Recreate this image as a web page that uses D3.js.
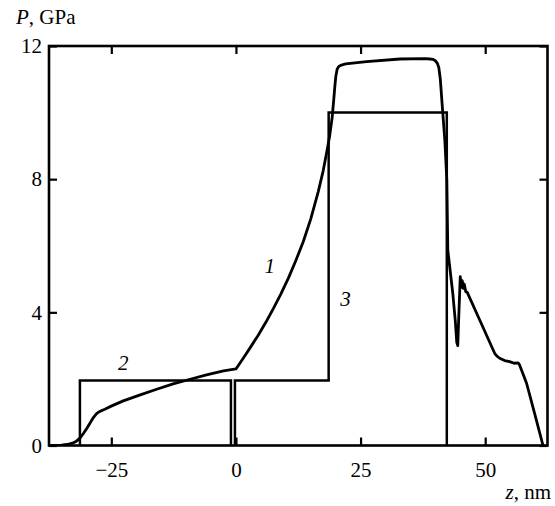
<!DOCTYPE html>
<html>
<head>
<meta charset="utf-8">
<script src="https://cdn.jsdelivr.net/npm/d3@7"></script>
<style>
  html, body { margin: 0; padding: 0; background: #fff; }
  svg { display: block; }
  svg text { font-family: "Liberation Serif", "DejaVu Serif", "Times New Roman", serif; fill: #000; }
</style>
</head>
<body>
<div id="chart"></div>
<script>
// ---- data ----
const xTicks = [-25, 0, 25, 50];
const yTicks = [0, 4, 8, 12];
const xTickLabels = ["\u221225", "0", "25", "50"];
const yTickLabels = ["0", "4", "8", "12"];

// curve 1: pressure profile P(z)
const curve1Z = [-37.3, -35.0, -33.9, -32.8, -32.0, -31.3, -30.6, -29.9, -29.2, -28.6, -28.0, -27.6, -26.9, -26.3, -24.9, -22.6, -19.2, -15.9, -12.6, -9.2, -5.9, -2.5, 0,
  1.5, 3.0, 4.5, 6.0, 7.5, 9.0, 10.5, 12.0, 13.5, 15.0, 16.5, 17.5, 18.2, 18.8, 19.3, 19.6, 19.85, 20.05, 20.3, 20.6, 21.0, 22.0, 26.2, 32.9, 38.0, 38.9, 39.5, 40.0, 40.4, 40.7, 41.0, 41.4, 41.9, 42.3,
  42.5, 43.5, 44.0, 44.3, 44.5, 44.7, 45.0, 45.2, 45.4, 45.6, 45.8, 46.1, 46.4, 48.9, 51.9, 52.4, 52.9, 53.9, 54.9, 55.8, 56.6, 56.9, 58.3, 59.9, 61.6];
const curve1P = [0, 0.01, 0.03, 0.07, 0.13, 0.22, 0.36, 0.52, 0.69, 0.84, 0.95, 1.0, 1.05, 1.09, 1.19, 1.34, 1.52, 1.69, 1.85, 1.99, 2.12, 2.24, 2.30,
  2.63, 2.97, 3.32, 3.70, 4.11, 4.55, 5.02, 5.55, 6.12, 6.80, 7.62, 8.25, 8.8, 9.3, 9.85, 10.35, 10.8, 11.1, 11.3, 11.38, 11.42, 11.46, 11.53, 11.61, 11.62, 11.61, 11.6, 11.56, 11.48, 11.35, 11.0, 10.18, 9.18, 7.98,
  5.87, 4.57, 3.75, 3.1, 3.0, 3.87, 5.07, 4.75, 4.95, 4.72, 4.85, 4.62, 4.6, 3.77, 2.77, 2.68, 2.62, 2.55, 2.52, 2.47, 2.48, 2.42, 1.87, 0.97, 0];

// curve 2: first step
const curve2Z = [-31.3, -31.3, -1.0, -1.0];
const curve2P = [0, 1.95, 1.95, 0];

// curve 3: second step
const curve3Z = [-0.2, -0.2, 18.6, 18.6, 42.3, 42.3];
const curve3P = [0, 1.95, 1.95, 10, 10, 0];

const seriesLabels = [
  { text: "1", z: 6.8, p: 5.4 },
  { text: "2", z: -22.6, p: 2.5 },
  { text: "3", z: 22.0, p: 4.4 }
];

// ---- layout ----
const W = 555, H = 506;
const m = { left: 49, right: 7.5, top: 46, bottom: 60.5 };
const FONT = "'Liberation Serif', 'DejaVu Serif', 'Times New Roman', serif";

const svg = d3.select("#chart").append("svg").attr("width", W).attr("height", H);

const x = d3.scaleLinear().domain([-37.5, 62.5]).range([m.left, W - m.right]);
const y = d3.scaleLinear().domain([0, 12]).range([H - m.bottom, m.top]);

const zip = (a, b) => a.map((v, i) => [v, b[i]]);
const line = d3.line().x(d => x(d[0])).y(d => y(d[1]));

const plot = svg.append("g");
plot.append("defs").append("clipPath").attr("id", "clip")
  .append("rect").attr("x", m.left).attr("y", m.top)
  .attr("width", x.range()[1] - m.left).attr("height", y.range()[0] - m.top);

const g = plot.append("g").attr("clip-path", "url(#clip)");

g.append("path").datum(zip(curve2Z, curve2P)).attr("d", line)
  .attr("fill", "none").attr("stroke", "#000").attr("stroke-width", 2.5);
g.append("path").datum(zip(curve3Z, curve3P)).attr("d", line)
  .attr("fill", "none").attr("stroke", "#000").attr("stroke-width", 2.5);
g.append("path").datum(zip(curve1Z, curve1P)).attr("d", line)
  .attr("fill", "none").attr("stroke", "#000").attr("stroke-width", 2.8)
  .attr("stroke-linejoin", "round");

// ---- axes (inward ticks on all four sides) ----
const tickLen = 8;
const axB = svg.append("g").attr("transform", `translate(0,${y(0)})`)
  .call(d3.axisBottom(x).tickValues(xTicks).tickSize(-tickLen).tickFormat((d, i) => xTickLabels[i]).tickPadding(17));
const axT = svg.append("g").attr("transform", `translate(0,${y(12)})`)
  .call(d3.axisTop(x).tickValues(xTicks).tickSize(-tickLen).tickFormat(""));
const axL = svg.append("g").attr("transform", `translate(${x(-37.5)},0)`)
  .call(d3.axisLeft(y).tickValues(yTicks).tickSize(-tickLen).tickFormat((d, i) => yTickLabels[i]).tickPadding(7));
const axR = svg.append("g").attr("transform", `translate(${x(62.5)},0)`)
  .call(d3.axisRight(y).tickValues(yTicks).tickSize(-tickLen).tickFormat(""));

[axB, axT, axL, axR].forEach(a => {
  a.attr("font-family", FONT);
  a.select(".domain").remove();
  a.selectAll(".tick line").attr("stroke", "#000").attr("stroke-width", 2.2);
  a.selectAll(".tick text").attr("font-family", FONT).attr("font-size", 21).attr("fill", "#000");
});
axB.selectAll(".tick text").attr("dy", "0.71em");

// frame
svg.append("rect").attr("x", x(-37.5)).attr("y", y(12))
  .attr("width", x(62.5) - x(-37.5)).attr("height", y(0) - y(12))
  .attr("fill", "none").attr("stroke", "#000").attr("stroke-width", 2.6);

// axis titles
const pt = svg.append("text").attr("x", 16).attr("y", 24).attr("font-size", 21).attr("font-family", FONT);
pt.append("tspan").attr("font-style", "italic").text("P");
pt.append("tspan").text(", GPa");

const zt = svg.append("text").attr("x", 551).attr("y", 499).attr("font-size", 21).attr("font-family", FONT).attr("text-anchor", "end");
zt.append("tspan").attr("font-style", "italic").text("z");
zt.append("tspan").text(", nm");

// series labels
svg.selectAll(".slab").data(seriesLabels).enter().append("text")
  .attr("class", "slab")
  .attr("x", d => x(d.z)).attr("y", d => y(d.p))
  .attr("text-anchor", "middle").attr("dy", "0.35em")
  .attr("font-size", 21).attr("font-style", "italic").attr("font-family", FONT)
  .text(d => d.text);
</script>
</body>
</html>
